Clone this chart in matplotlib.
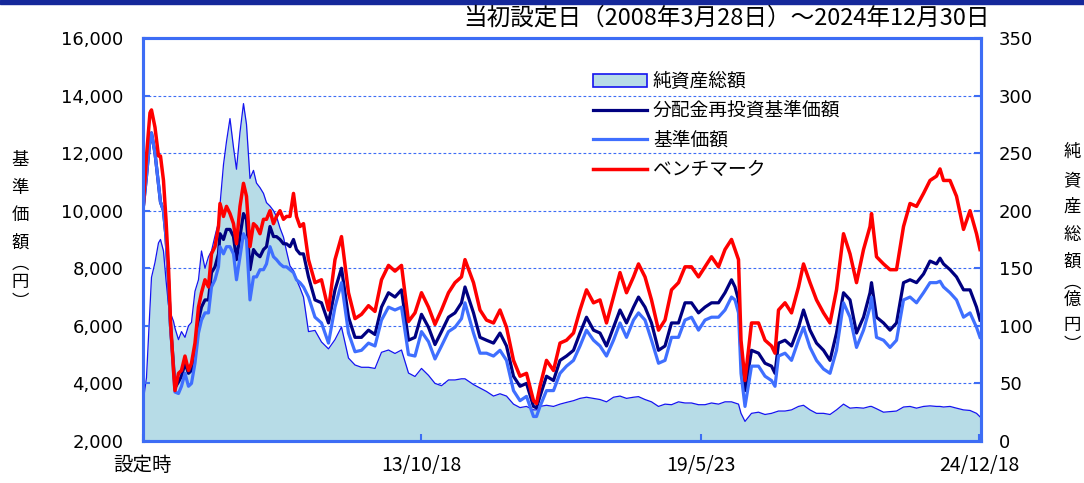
import matplotlib
matplotlib.use("Agg")
import matplotlib.pyplot as plt
from matplotlib.patches import Patch, Rectangle
from matplotlib.lines import Line2D

plt.rcParams['font.family'] = ['Noto Sans CJK JP', 'DejaVu Sans']

# 日付（年の小数表記）
years = [2008.24, 2008.31, 2008.38, 2008.41, 2008.48, 2008.55, 2008.59, 2008.65, 2008.70, 2008.75,
         2008.79, 2008.85, 2008.88, 2008.95, 2009.01, 2009.08, 2009.15, 2009.21, 2009.28, 2009.35,
         2009.41, 2009.48, 2009.55, 2009.61, 2009.68, 2009.75, 2009.78, 2009.85, 2009.91, 2009.98,
         2010.05, 2010.11, 2010.18, 2010.25, 2010.31, 2010.38, 2010.45, 2010.51, 2010.58, 2010.65,
         2010.71, 2010.78, 2010.85, 2010.91, 2010.98, 2011.05, 2011.11, 2011.18, 2011.25, 2011.31,
         2011.38, 2011.45,
         2011.55, 2011.68, 2011.81, 2011.95, 2012.08, 2012.21, 2012.35, 2012.48, 2012.61, 2012.75,
         2012.88, 2013.01, 2013.15, 2013.28, 2013.41, 2013.55, 2013.68, 2013.81, 2013.95, 2014.08,
         2014.21, 2014.35, 2014.48, 2014.61, 2014.68,
         2014.85, 2014.98, 2015.11, 2015.25, 2015.38, 2015.51, 2015.65, 2015.78, 2015.91, 2016.05,
         2016.11, 2016.18, 2016.31, 2016.45, 2016.58, 2016.71, 2016.85, 2016.98, 2017.11, 2017.25,
         2017.38, 2017.51, 2017.65, 2017.78, 2017.91, 2018.05,
         2018.15, 2018.28, 2018.41, 2018.55, 2018.68, 2018.81, 2018.95, 2019.08, 2019.21, 2019.35,
         2019.48, 2019.61, 2019.75, 2019.88, 2020.01, 2020.08, 2020.15, 2020.20, 2020.28, 2020.41,
         2020.55, 2020.68, 2020.81, 2020.88, 2020.95, 2021.08, 2021.21, 2021.35,
         2021.45, 2021.58, 2021.71, 2021.85, 2021.98, 2022.11, 2022.25, 2022.38, 2022.51, 2022.65,
         2022.78, 2022.81, 2022.91, 2023.05, 2023.18, 2023.31, 2023.45, 2023.58, 2023.71, 2023.85,
         2023.98, 2024.11, 2024.18, 2024.25, 2024.38, 2024.51, 2024.65, 2024.78, 2024.91, 2024.98]

# ベンチマーク（円）
benchmark = [10000, 11900, 13400, 13500, 12900, 11900, 11900, 11050, 9700, 8050,
             6200, 4450, 3750, 4350, 4450, 4950, 4450, 4700, 5400, 6650,
             7150, 7600, 7350, 8500, 8750, 9450, 10250, 9800, 10150, 9900,
             9550, 8850, 10150, 10950, 10500, 8750, 9550, 9450, 9200, 9700,
             9700, 10000, 9550, 9800, 10000, 9700, 9800, 9800, 10600, 9800,
             9450, 9550,
             8300, 7500, 7600, 6550, 8300, 9100, 7150, 6250, 6400, 6700,
             6500, 7600, 8100, 7900, 8100, 6150, 6450, 7150, 6650, 6050,
             6550, 7150, 7500, 7700, 8300,
             7500, 6550, 6200, 6100, 6550, 5950, 4800, 4250, 4350, 3400,
             3300, 3900, 4800, 4450, 5400, 5500, 5750, 6550, 7250, 6800,
             6900, 6100, 7000, 7850, 7150, 7700,
             8150, 7700, 6900, 5850, 6200, 7250, 7500, 8050, 8050, 7700,
             8050, 8400, 8050, 8650, 9000, 8650, 8300, 5500, 4100, 6100,
             6100, 5500, 5300, 5050, 6550, 6800, 6450, 7350,
             8150, 7500, 6900, 6450, 6100, 7250, 9200, 8500, 7500, 8650,
             9450, 9900, 8400, 8150, 7950, 7950, 9450, 10250, 10150, 10600,
             11050, 11200, 11450, 11050, 11050, 10500, 9350, 10000, 9200, 8650]

# 分配金再投資基準価額（円）
nav_reinvested = [10000, 11200, 12500, 12700, 12000, 10900, 10300, 10000, 9100, 7600,
                  6000, 4650, 3850, 4050, 4250, 4700, 4350, 4450, 5050, 6200,
                  6650, 6900, 6900, 7850, 8050, 8500, 9200, 9000, 9350, 9350,
                  9100, 8300, 9100, 9900, 9700, 7950, 8650, 8500, 8400, 8650,
                  8750, 9450, 9100, 9100, 9000, 8850, 8850, 8750, 9000, 8650,
                  8500, 8500,
                  7700, 6900, 6800, 6100, 7250, 8000, 6300, 5600, 5600, 5850,
                  5700, 6650, 7150, 7000, 7250, 5500, 5600, 6400, 5950, 5350,
                  5800, 6300, 6450, 6800, 7350,
                  6450, 5600, 5500, 5400, 5750, 5300, 4250, 3900, 4000, 3200,
                  3150, 3550, 4250, 4100, 4800, 4950, 5150, 5750, 6300, 5850,
                  5750, 5300, 5950, 6550, 6100, 6650,
                  7000, 6650, 6100, 5150, 5300, 6100, 6100, 6800, 6800, 6450,
                  6650, 6800, 6800, 7150, 7600, 7350, 6900, 4950, 3750, 5150,
                  5050, 4700, 4600, 4350, 5400, 5500, 5300, 5950,
                  6550, 5850, 5400, 5150, 4800, 5750, 7150, 6900, 5750, 6300,
                  7150, 7500, 6300, 6100, 5850, 6100, 7500, 7600, 7500, 7800,
                  8250, 8150, 8350, 8150, 7950, 7700, 7250, 7250, 6650, 6200]

# 基準価額（円）
nav = [10000, 11200, 12500, 12700, 12000, 10900, 10300, 10000, 9100, 7600,
       6000, 4500, 3700, 3650, 3900, 4350, 3900, 4000, 4700, 5750,
       6200, 6450, 6450, 7350, 7600, 8050, 8750, 8500, 8750, 8750,
       8500, 7600, 8400, 9200, 9000, 6900, 7700, 7700, 7950, 7950,
       8150, 8750, 8400, 8300, 8150, 8050, 8050, 7950, 7850, 7600,
       7500, 7350,
       7000, 6300, 6100, 5400, 6650, 7500, 5750, 5100, 5150, 5400,
       5300, 6200, 6650, 6550, 6650, 5000, 4950, 5800, 5450, 4850,
       5300, 5800, 5950, 6250, 6800,
       5750, 5050, 5050, 4950, 5150, 4800, 3750, 3400, 3550, 2850,
       2850, 3200, 3750, 3750, 4350, 4600, 4800, 5300, 5850, 5500,
       5300, 4950, 5500, 6100, 5600, 6200,
       6450, 6200, 5500, 4700, 4800, 5600, 5600, 6200, 6300, 5850,
       6200, 6300, 6300, 6550, 7000, 6900, 6450, 4350, 3200, 4600,
       4600, 4250, 4100, 3900, 4950, 5050, 4800, 5500,
       5950, 5250, 4800, 4500, 4350, 5150, 6800, 6300, 5250, 5850,
       6650, 7000, 5600, 5500, 5250, 5500, 6900, 7000, 6800, 7150,
       7500, 7500, 7550, 7350, 7150, 6900, 6300, 6450, 5950, 5600]

# 純資産総額（億円）
net_assets = [33, 55, 115, 142, 155, 172, 175, 165, 140, 118,
              111, 104, 98, 88, 95, 90, 100, 103, 130, 140,
              165, 150, 160, 165, 178, 190, 205, 240, 260, 280,
              255, 236, 268, 293, 275, 228, 235, 224, 220, 215,
              207, 204, 200, 195, 185, 177, 165, 152, 148, 140,
              133, 125,
              95, 96, 86, 80, 88, 99, 72, 66, 64, 64,
              63, 77, 79, 76, 79, 59, 56, 63, 57, 50,
              48, 53, 53, 54, 54,
              49, 46, 43, 39, 41, 39, 32, 29, 30, 27,
              27, 30, 31, 30, 32, 33.5, 35, 37, 38, 37,
              36, 34, 38, 39, 37, 38,
              38.5, 36, 34, 30, 32, 31.5, 34, 33, 33, 31.5,
              31.5, 33, 32, 34, 34, 33, 32, 24, 17, 24,
              25, 23, 24, 25, 26, 26, 27, 30,
              31, 27, 24, 24, 23, 27, 32, 28.5, 29, 28.5,
              30, 30, 28, 25, 25.5, 26, 29.5, 30, 28.5, 30,
              30.5, 30, 30, 29.5, 30, 28.5, 27, 26.5, 24, 21]

x_ticks = [2008.24, 2013.80, 2019.39, 2024.96]
x_labels = ["設定時", "13/10/18", "19/5/23", "24/12/18"]
left_ticks = list(range(2000, 16001, 2000))
right_ticks = list(range(0, 351, 50))

axis_blue = "#3d6df5"

fig = plt.figure(figsize=(10.84, 4.83), dpi=100)
ax = fig.add_axes([0.1319, 0.087, 0.7731, 0.8344])
ax2 = ax.twinx()
ax.set_zorder(2)
ax2.set_zorder(1)
ax.patch.set_visible(False)

# 純資産総額（右軸）
ax2.fill_between(years, net_assets, 0, color="#b7dce7", lw=0, zorder=1)
ax2.plot(years, net_assets, color="#1414f0", lw=0.9, zorder=2)
ax2.set_ylim(0, 350)
ax2.set_yticks(right_ticks)
ax2.set_axisbelow(True)
ax2.yaxis.grid(True, color=axis_blue, lw=0.8, linestyle=(0, (2.5, 2)))

# 基準価額など（左軸）
ax.plot(years, nav_reinvested, color="#000080", lw=2.3)
ax.plot(years, nav, color="#3f6fff", lw=2.3)
ax.plot(years, benchmark, color="#ff0000", lw=2.5)
ax.set_xlim(2008.24, 2025.0)
ax.set_ylim(2000, 16000)
ax.set_yticks(left_ticks)
ax.set_yticklabels([f"{v:,}" for v in left_ticks], family="DejaVu Sans")
ax.set_xticks(x_ticks)
ax.set_xticklabels(x_labels)

for a in (ax, ax2):
    for s in a.spines.values():
        s.set_color(axis_blue)
        s.set_linewidth(2.2)

ax.tick_params(axis="y", direction="in", length=5, width=1.5, color=axis_blue,
               labelsize=13, pad=14)
ax.tick_params(axis="x", direction="in", length=5, width=1.5, color=axis_blue,
               labelsize=14, pad=10)
ax2.tick_params(axis="y", direction="in", length=5, width=1.5, color=axis_blue,
                labelsize=13, pad=13)
for t in ax2.get_yticklabels():
    t.set_family("DejaVu Sans")

# 凡例
handles = [Patch(facecolor="#b7dce7", edgecolor="#1414f0", lw=1.2),
           Line2D([], [], color="#000080", lw=2.3),
           Line2D([], [], color="#3f6fff", lw=2.3),
           Line2D([], [], color="#ff0000", lw=2.5)]
labels = ["純資産総額", "分配金再投資基準価額", "基準価額", "ベンチマーク"]
fig.legend(handles, labels, loc="upper left", bbox_to_anchor=(0.547, 0.853),
           frameon=False, fontsize=13.5, handlelength=2.9, handletextpad=0.3,
           labelspacing=0.45, borderpad=0, borderaxespad=0)

# タイトル
fig.text(0.913, 0.963, "当初設定日（2008年3月28日）～2024年12月30日",
         ha="right", va="center", fontsize=17)

# 縦書きの軸ラベル
left_label = ["基", "準", "価", "額", "︵", "円", "︶"]
left_y = [160, 188, 215, 243, 264, 282, 302]
for ch, py in zip(left_label, left_y):
    fig.text(20 / 1084, 1 - py / 483, ch, ha="center", va="center", fontsize=12.5)

right_label = ["純", "資", "産", "総", "額", "︵", "億", "円", "︶"]
right_y = [152, 180, 207, 235, 262, 283, 300, 325, 345]
for ch, py in zip(right_label, right_y):
    fig.text(1072 / 1084, 1 - py / 483, ch, ha="center", va="center", fontsize=12.5)

# 上部の帯
fig.patches.append(Rectangle((0, 1 - 4 / 483), 1, 4 / 483, transform=fig.transFigure,
                             color="#15289a", zorder=0))

fig.savefig("out.png", dpi=100)
